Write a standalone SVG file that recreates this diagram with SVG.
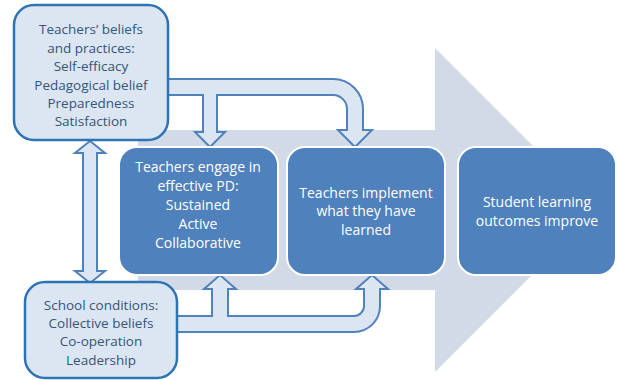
<svg xmlns="http://www.w3.org/2000/svg" width="617" height="380" viewBox="0 0 617 380">
  <style>
    .bg { fill: #d2dae8; }
    .conn { fill: #dce6f2; stroke: #4f81bd; stroke-width: 2; stroke-linejoin: miter; }
    .light { fill: #dce6f2; stroke: #2e74b5; stroke-width: 2.5; }
    .dark { fill: #4f81bd; stroke: #ffffff; stroke-width: 2; }
    text { font-family: "Open Sans", "Liberation Sans", sans-serif; text-anchor: middle; }
    .tl { fill: #34547a; font-size: 13.5px; }
    .tw { fill: #ffffff; font-size: 14px; }
  </style>

  <!-- large background process arrow -->
  <path class="bg" d="M138,130 H435 V48 L597,210 L435,372 V290 H138 Z"/>

  <g id="connectors">
    <!-- beliefs → engage PD and → implement -->
    <path class="conn" d="M168,79 H333 A30,30 0 0 1 363,109 V130 H372 L355,147 L338,130 H347 V109 A14,14 0 0 0 333,95 H217 V132 H225 L210,147 L195,132 H203 V95 H168 Z"/>
    <!-- school conditions → engage PD and → implement -->
    <path class="conn" d="M177,316 H212 V289 H204 L220,275 L236,289 H228 V316 H354 A10,10 0 0 0 364,306 V289 H356 L372,275 L388,289 H380 V306 A26,26 0 0 1 354,332 H177 Z"/>
    <!-- two-way link between beliefs and school conditions -->
    <path class="conn" d="M90,141 L105,153 H97 V271 H105 L90,283 L75,271 H83 V153 H75 Z"/>
  </g>

  <g id="teachers-beliefs">
    <rect class="light" x="14" y="5" width="154" height="135" rx="20"/>
    <text class="tl" x="91" y="34">Teachers’ beliefs</text>
    <text class="tl" x="91" y="53">and practices:</text>
    <text class="tl" x="91" y="71">Self-efficacy</text>
    <text class="tl" x="91" y="90">Pedagogical belief</text>
    <text class="tl" x="91" y="108">Preparedness</text>
    <text class="tl" x="91" y="126">Satisfaction</text>
  </g>

  <g id="school-conditions">
    <rect class="light" x="25" y="282" width="152" height="96" rx="20"/>
    <text class="tl" x="101" y="310">School conditions:</text>
    <text class="tl" x="101" y="328">Collective beliefs</text>
    <text class="tl" x="101" y="346">Co-operation</text>
    <text class="tl" x="101" y="365">Leadership</text>
  </g>

  <g id="engage-pd">
    <rect class="dark" x="119" y="147" width="159" height="128" rx="18"/>
    <text class="tw" x="198" y="172">Teachers engage in</text>
    <text class="tw" x="198" y="191">effective PD:</text>
    <text class="tw" x="198" y="210">Sustained</text>
    <text class="tw" x="198" y="229">Active</text>
    <text class="tw" x="198" y="248">Collaborative</text>
  </g>

  <g id="implement">
    <rect class="dark" x="287" y="147" width="158" height="128" rx="18"/>
    <text class="tw" x="366" y="198">Teachers implement</text>
    <text class="tw" x="366" y="216">what they have</text>
    <text class="tw" x="366" y="235">learned</text>
  </g>

  <g id="student-outcomes">
    <rect class="dark" x="458" y="147" width="158" height="128" rx="18"/>
    <text class="tw" x="537" y="207">Student learning</text>
    <text class="tw" x="537" y="226">outcomes improve</text>
  </g>
</svg>
